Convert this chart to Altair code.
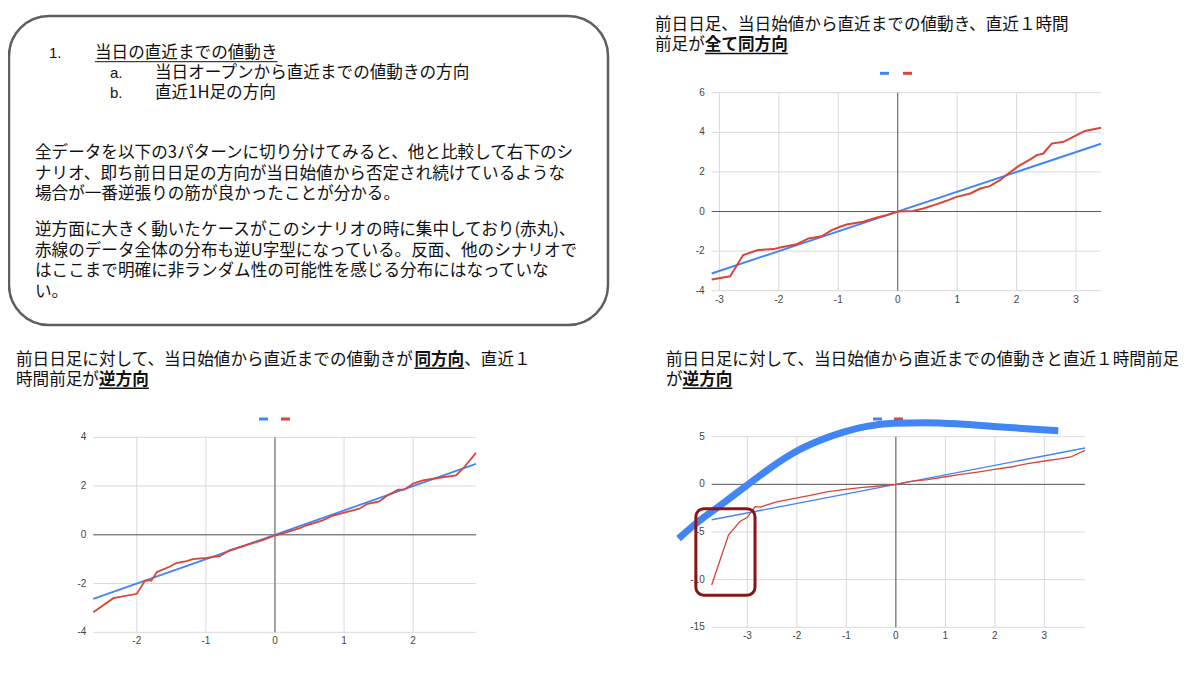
import altair as alt
import pandas as pd

# ---------------- data ----------------
c1_xticks = [-3, -2, -1, 0, 1, 2, 3]
c1_yticks = [-4, -2, 0, 2, 4, 6]
c1_blue_x = [-3.13, 3.42]
c1_blue_y = [-3.13, 3.42]
c1_red_x = [-3.13, -2.82, -2.60, -2.35, -2.09, -1.98, -1.70, -1.50, -1.28, -1.11, -0.97, -0.86,
            -0.58, -0.35, -0.19, 0.0, 0.26, 0.43, 0.66, 0.82, 0.99, 1.22, 1.39, 1.55, 1.72, 1.84,
            2.03, 2.23, 2.34, 2.45, 2.59, 2.79, 3.01, 3.15, 3.42]
c1_red_y = [-3.43, -3.27, -2.20, -1.95, -1.90, -1.82, -1.65, -1.36, -1.25, -0.94, -0.77, -0.66,
            -0.52, -0.30, -0.19, 0.0, 0.03, 0.15, 0.37, 0.54, 0.74, 0.91, 1.16, 1.28, 1.58, 1.87,
            2.29, 2.63, 2.85, 2.93, 3.43, 3.52, 3.86, 4.07, 4.23]

c2_xticks = [-2, -1, 0, 1, 2]
c2_yticks = [-4, -2, 0, 2, 4]
c2_blue_x = [-2.63, 2.91]
c2_blue_y = [-2.63, 2.91]
c2_red_x = [-2.63, -2.34, -2.0, -1.88, -1.79, -1.71, -1.52, -1.43, -1.28, -1.19, -0.99, -0.80,
            -0.66, -0.51, -0.32, -0.17, 0.0, 0.21, 0.36, 0.45, 0.69, 0.84, 1.03, 1.22, 1.34, 1.51,
            1.61, 1.78, 1.87, 2.0, 2.14, 2.38, 2.62, 2.72, 2.91]
c2_red_y = [-3.18, -2.60, -2.42, -1.88, -1.88, -1.53, -1.30, -1.16, -1.08, -1.00, -0.95, -0.88,
            -0.64, -0.51, -0.34, -0.21, -0.03, 0.14, 0.27, 0.38, 0.59, 0.79, 0.93, 1.07, 1.27, 1.37,
            1.58, 1.85, 1.85, 2.10, 2.23, 2.34, 2.44, 2.71, 3.36]

c3_xticks = [-3, -2, -1, 0, 1, 2, 3]
c3_yticks = [-15, -10, -5, 0, 5]
c3_blue_x = [-3.72, 3.82]
c3_blue_y = [-3.72, 3.82]
c3_red_x = [-3.72, -3.38, -3.15, -3.0, -2.84, -2.74, -2.41, -2.07, -1.73, -1.40, -1.06, -0.72,
            -0.39, 0.0, 0.30, 0.64, 0.97, 1.31, 1.65, 1.99, 2.32, 2.66, 3.0, 3.33, 3.53, 3.82]
c3_red_y = [-10.56, -5.30, -3.90, -3.46, -2.34, -2.38, -1.85, -1.50, -1.15, -0.80, -0.56, -0.35,
            -0.20, 0.0, 0.31, 0.49, 0.77, 1.05, 1.29, 1.57, 1.82, 2.17, 2.45, 2.69, 2.87, 3.57]
# hand-drawn thick blue curve (inverse-U) and red highlight box
curve_x = [-4.39, -4.06, -3.59, -3.0, -2.54, -2.07, -1.53, -1.06, -0.59, -0.05, 0.62, 1.30, 1.97, 2.64, 3.28]
curve_y = [-5.70, -4.20, -2.38, -0.07, 1.71, 3.29, 4.62, 5.49, 6.08, 6.40, 6.47, 6.33, 6.08, 5.84, 5.63]
box_x = [-4.04, -2.845]
box_y = [-11.64, -2.55]

# ---------------- texts ----------------
JP = "Noto Sans CJK JP"
LAT = "Liberation Sans"
EM = 16.6
t_head = "当日の直近までの値動き"
t_a = "当日オープンから直近までの値動きの方向"
t_b = "直近1H足の方向"
para1 = ["全データを以下の3パターンに切り分けてみると、他と比較して右下のシ",
         "ナリオ、即ち前日日足の方向が当日始値から否定され続けているような",
         "場合が一番逆張りの筋が良かったことが分かる。"]
para2 = ["逆方面に大きく動いたケースがこのシナリオの時に集中しており(赤丸)、",
         "赤線のデータ全体の分布も逆U字型になっている。反面、他のシナリオで",
         "はここまで明確に非ランダム性の可能性を感じる分布にはなっていな",
         "い。"]

BLUE = "#4285F4"
RED = "#DB4437"
GRID = "#d9d9d9"
ZERO = "#5a5a5a"

P = {
    1: dict(xd=[-3.13, 3.42], xr=[703.7, 1093.0], yd=[-4, 6], yr=[282.7, 84.7],
            xt=c1_xticks, yt=c1_yticks),
    2: dict(xd=[-2.63, 2.91], xr=[85.3, 468.0], yd=[-4, 4], yr=[624.3, 429.3],
            xt=c2_xticks, yt=c2_yticks),
    3: dict(xd=[-3.72, 3.82], xr=[703.7, 1077.0], yd=[-15, 5], yr=[619.3, 428.7],
            xt=c3_xticks, yt=c3_yticks),
}

dummy = pd.DataFrame({"k": [0]})


def xs(p):
    return alt.Scale(domain=P[p]["xd"], range=P[p]["xr"], nice=False, zero=False)


def ys(p):
    return alt.Scale(domain=P[p]["yd"], range=P[p]["yr"], nice=False, zero=False)


def X(p, f):
    return alt.X(f, type="quantitative", scale=xs(p), axis=None)


def Y(p, f):
    return alt.Y(f, type="quantitative", scale=ys(p), axis=None)


def T(s, x, y, size=EM, bold=False, font=JP, color="#111111", align="left"):
    return alt.Chart(dummy).mark_text(
        text=s, font=font, fontSize=size, fontWeight="bold" if bold else "normal",
        color=color, align=align, baseline="middle"
    ).encode(x=alt.value(x), y=alt.value(y))


def R(x0, x1, y, color="#111111", w=1.2):
    return alt.Chart(dummy).mark_rule(color=color, strokeWidth=w).encode(
        x=alt.value(x0), x2=alt.value(x1), y=alt.value(y))


def panel(p, blue_x, blue_y, red_x, red_y, lw_b, lw_r):
    d = P[p]
    out = []
    vg = pd.DataFrame({"t": d["xt"], "lo": [d["yd"][0]] * len(d["xt"]), "hi": [d["yd"][1]] * len(d["xt"])})
    hg = pd.DataFrame({"t": d["yt"], "lo": [d["xd"][0]] * len(d["yt"]), "hi": [d["xd"][1]] * len(d["yt"])})
    out.append(alt.Chart(vg).mark_rule(color=GRID, strokeWidth=1).encode(
        x=X(p, "t"), y=Y(p, "lo"), y2="hi:Q"))
    out.append(alt.Chart(hg).mark_rule(color=GRID, strokeWidth=1).encode(
        y=Y(p, "t"), x=X(p, "lo"), x2="hi:Q"))
    vz = vg[vg.t == 0]
    hz = hg[hg.t == 0]
    out.append(alt.Chart(vz).mark_rule(color=ZERO, strokeWidth=1).encode(
        x=X(p, "t"), y=Y(p, "lo"), y2="hi:Q"))
    out.append(alt.Chart(hz).mark_rule(color=ZERO, strokeWidth=1).encode(
        y=Y(p, "t"), x=X(p, "lo"), x2="hi:Q"))
    xl = vg.assign(lab=[str(v) for v in d["xt"]])
    yl = hg.assign(lab=[str(v) for v in d["yt"]])
    out.append(alt.Chart(xl).mark_text(font=LAT, fontSize=10, color="#444444", dy=9,
                                       align="center", baseline="middle").encode(
        x=X(p, "t"), y=Y(p, "lo"), text="lab:N"))
    out.append(alt.Chart(yl).mark_text(font=LAT, fontSize=10, color="#444444", dx=-7,
                                       align="right", baseline="middle").encode(
        y=Y(p, "t"), x=X(p, "lo"), text="lab:N"))
    out.append(alt.Chart(pd.DataFrame({"x": blue_x, "y": blue_y})).mark_line(
        color=BLUE, strokeWidth=lw_b).encode(x=X(p, "x"), y=Y(p, "y")))
    out.append(alt.Chart(pd.DataFrame({"x": red_x, "y": red_y})).mark_line(
        color=RED, strokeWidth=lw_r).encode(x=X(p, "x"), y=Y(p, "y")))
    return out


layers = []
# ---- text box ----
layers.append(alt.Chart(dummy).mark_rect(cornerRadius=40, fill="white", stroke="#5f5f5f",
                                         strokeWidth=2.5).encode(
    x=alt.value(1), x2=alt.value(600), y=alt.value(8), y2=alt.value(317)))
layers.append(T("1.", 41, 45, size=15, font=LAT))
layers.append(T(t_head, 87, 45))
layers.append(R(87, 87 + len(t_head) * EM, 53.7, w=1))
layers.append(T("a.", 102, 65, size=15, font=LAT))
layers.append(T(t_a, 147, 65))
layers.append(T("b.", 102, 85, size=15, font=LAT))
layers.append(T(t_b, 147, 85))
for i, s in enumerate(para1):
    layers.append(T(s, 27, 145 + i * 20.5))
for i, s in enumerate(para2):
    layers.append(T(s, 27, 222 + i * 20.5))

# ---- chart titles ----
layers.append(T("前日日足、当日始値から直近までの値動き、直近１時間", 647, 17))
layers.append(T("前足が", 647, 37))
layers.append(T("全て同方向", 647 + 3 * EM, 37, bold=True))
layers.append(R(647 + 3 * EM, 647 + 8 * EM, 45.5, w=1.5))

s1 = "前日日足に対して、当日始値から直近までの値動きが"
layers.append(T(s1, 8, 352))
layers.append(T("同方向", 8 + len(s1) * EM, 352, bold=True))
layers.append(R(8 + len(s1) * EM, 8 + (len(s1) + 3) * EM, 360.3, w=1.5))
layers.append(T("、直近１", 8 + (len(s1) + 3) * EM, 352))
layers.append(T("時間前足が", 8, 372))
layers.append(T("逆方向", 8 + 5 * EM, 372, bold=True))
layers.append(R(8 + 5 * EM, 8 + 8 * EM, 380.3, w=1.5))

layers.append(T("前日日足に対して、当日始値から直近までの値動きと直近１時間前足", 658, 352))
layers.append(T("が", 658, 372))
layers.append(T("逆方向", 658 + EM, 372, bold=True))
layers.append(R(658 + EM, 658 + 4 * EM, 380.3, w=1.5))

# ---- legends (unnamed series dashes) ----
for (bx, rx, ly) in [(872, 895, 65.3), (251, 273, 411), (865, 886, 411)]:
    layers.append(R(bx, bx + 9, ly, color=BLUE, w=3))
    layers.append(R(rx, rx + 9, ly, color=RED, w=3))

# ---- panels ----
layers += panel(1, c1_blue_x, c1_blue_y, c1_red_x, c1_red_y, 2, 2)
layers += panel(2, c2_blue_x, c2_blue_y, c2_red_x, c2_red_y, 1.8, 1.8)
layers += panel(3, c3_blue_x, c3_blue_y, c3_red_x, c3_red_y, 1.4, 1.3)

layers.append(alt.Chart(pd.DataFrame({"x": curve_x, "y": curve_y})).mark_line(
    color=BLUE, strokeWidth=7, interpolate="monotone").encode(x=X(3, "x"), y=Y(3, "y")))
layers.append(alt.Chart(pd.DataFrame({"x0": [box_x[0]], "x1": [box_x[1]],
                                      "y0": [box_y[0]], "y1": [box_y[1]]})).mark_rect(
    fillOpacity=0, stroke="#8B1414", strokeWidth=3, cornerRadius=8).encode(
    x=X(3, "x0"), x2="x1:Q", y=Y(3, "y0"), y2="y1:Q"))

chart = alt.layer(*layers).resolve_scale(x="independent", y="independent").properties(
    width=1184, height=659, padding=0,
    autosize=alt.AutoSizeParams(type="none"),
    background="white",
).configure_view(stroke=None)

chart.save("out.html", embed_options={"renderer": "svg", "actions": False})
